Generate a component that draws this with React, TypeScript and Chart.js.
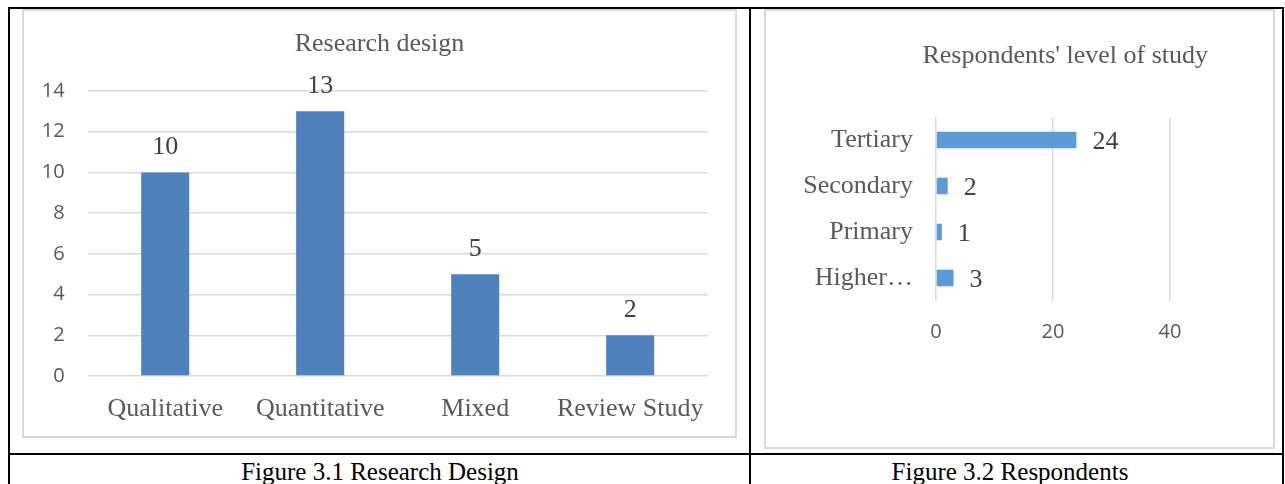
import React, { useEffect, useRef } from "react";
import { Chart, registerables } from "chart.js";

Chart.register(...registerables);

// ---- data ----
const designCategories = ["Qualitative", "Quantitative", "Mixed", "Review Study"];
const designValues = [10, 13, 5, 2];
const designTickMin = 0;
const designTickMax = 14;
const designTickStep = 2;

const levelCategories = ["Tertiary", "Secondary", "Primary", "Higher…"];
const levelValues = [24, 2, 1, 3];
const levelTickMin = 0;
const levelTickMax = 40;
const levelTickStep = 20;

const designTitle = "Research design";
const levelTitle = "Respondents' level of study";
const designCaption = "Figure 3.1 Research Design";
const levelCaption = "Figure 3.2 Respondents";

const SERIF = "'Liberation Serif', 'Times New Roman', serif";
const SANS = "'Open Sans', 'Liberation Sans', sans-serif";
const GRID = "#d9d9d9";
const TEXT = "#595959";

const valueLabels = {
  id: "valueLabels",
  afterDatasetsDraw(chart: any) {
    const ctx = chart.ctx;
    const horizontal = chart.options.indexAxis === "y";
    chart.data.datasets.forEach((ds: any, i: number) => {
      const meta = chart.getDatasetMeta(i);
      meta.data.forEach((el: any, j: number) => {
        const v = ds.data[j];
        ctx.save();
        ctx.font = `26px ${SERIF}`;
        ctx.fillStyle = "#404040";
        ctx.textBaseline = "alphabetic";
        if (horizontal) {
          ctx.textAlign = "left";
          ctx.fillText(String(v), el.x + 16, el.y + 9);
        } else {
          ctx.textAlign = "center";
          ctx.fillText(String(v), el.x, el.y - 18);
        }
        ctx.restore();
      });
    });
  },
};

function DesignChart() {
  const ref = useRef<HTMLCanvasElement>(null);
  useEffect(() => {
    const chart = new Chart(ref.current as HTMLCanvasElement, {
      type: "bar",
      data: {
        labels: designCategories,
        datasets: [
          {
            data: designValues,
            backgroundColor: "#4F81BD",
            barPercentage: 0.31,
            categoryPercentage: 1,
          },
        ],
      },
      options: {
        animation: false,
        responsive: false,
        devicePixelRatio: 1,
        layout: { padding: 0 },
        plugins: {
          legend: { display: false },
          tooltip: { enabled: false },
          title: {
            display: true,
            text: designTitle,
            color: TEXT,
            font: { family: SERIF, size: 26, weight: "normal" },
            padding: { top: 17.4, bottom: 31.4 },
          },
        },
        scales: {
          x: {
            grid: { display: false },
            border: { display: false },
            ticks: {
              color: TEXT,
              font: { family: SERIF, size: 26 },
              padding: 9.4,
              maxRotation: 0,
              minRotation: 0,
              autoSkip: false,
            },
            afterFit: (s: any) => {
              s.height = 60;
            },
          },
          y: {
            min: designTickMin,
            max: designTickMax,
            ticks: {
              stepSize: designTickStep,
              color: TEXT,
              font: { family: SANS, size: 20 },
              padding: 23,
            },
            grid: { color: GRID, lineWidth: 1.5, drawTicks: false },
            border: { display: false },
            afterFit: (s: any) => {
              s.width = 63.7;
            },
          },
          y2: {
            type: "linear",
            position: "right",
            display: true,
            grid: { display: false },
            border: { display: false },
            ticks: { display: false },
            afterFit: (s: any) => {
              s.width = 27.3;
            },
          },
        },
      } as any,
      plugins: [valueLabels],
    });
    return () => chart.destroy();
  }, []);
  return (
    <canvas
      ref={ref}
      width={711}
      height={425}
      style={{ position: "absolute", left: 24, top: 11, width: 711, height: 425 }}
    />
  );
}

function LevelChart() {
  const ref = useRef<HTMLCanvasElement>(null);
  useEffect(() => {
    const chart = new Chart(ref.current as HTMLCanvasElement, {
      type: "bar",
      data: {
        labels: levelCategories,
        datasets: [
          {
            data: levelValues,
            backgroundColor: "#5B9BD5",
            barPercentage: 0.36,
            categoryPercentage: 1,
          },
        ],
      },
      options: {
        indexAxis: "y",
        animation: false,
        responsive: false,
        devicePixelRatio: 1,
        layout: { padding: { left: 0, right: 65, top: 0, bottom: 0 } },
        plugins: {
          legend: { display: false },
          tooltip: { enabled: false },
          title: {
            display: true,
            text: levelTitle,
            align: "end",
            color: TEXT,
            font: { family: SERIF, size: 26, weight: "normal" },
            padding: { top: 29.4, bottom: 45.4 },
          },
        },
        scales: {
          x: {
            min: levelTickMin,
            max: levelTickMax,
            ticks: {
              stepSize: levelTickStep,
              color: TEXT,
              font: { family: SANS, size: 20 },
              padding: 19,
            },
            grid: { color: GRID, lineWidth: 1.5, drawTicks: false },
            border: { display: false },
            afterFit: (s: any) => {
              s.height = 146;
            },
          },
          y: {
            grid: { display: false },
            border: { display: false },
            ticks: {
              color: TEXT,
              font: { family: SERIF, size: 26 },
              padding: 15,
              autoSkip: false,
            },
            afterFit: (s: any) => {
              s.width = 170;
            },
          },
          y2: {
            type: "linear",
            position: "right",
            display: true,
            grid: { display: false },
            border: { display: false },
            ticks: { display: false },
            afterFit: (s: any) => {
              s.width = 38;
            },
          },
        },
      } as any,
      plugins: [valueLabels],
    });
    return () => chart.destroy();
  }, []);
  return (
    <canvas
      ref={ref}
      width={507}
      height={436}
      style={{ position: "absolute", left: 766, top: 11, width: 507, height: 436 }}
    />
  );
}

const line = (left: number, top: number, width: number, height: number) => (
  <div
    style={{ position: "absolute", left, top, width, height, background: "#000" }}
  />
);

export default function App() {
  return (
    <div
      style={{
        position: "absolute",
        left: 0,
        top: 0,
        width: 1285,
        height: 484,
        overflow: "hidden",
        background: "#fff",
        fontFamily: SERIF,
      }}
    >
      {/* chart frames */}
      <div
        style={{
          position: "absolute",
          left: 22,
          top: 9,
          width: 715,
          height: 429,
          border: `2px solid ${GRID}`,
          boxSizing: "border-box",
        }}
      />
      <div
        style={{
          position: "absolute",
          left: 764,
          top: 9,
          width: 511,
          height: 440,
          border: `2px solid ${GRID}`,
          boxSizing: "border-box",
        }}
      />
      <DesignChart />
      <LevelChart />
      {/* table borders */}
      {line(8, 7, 1276, 2)}
      {line(8, 7, 2, 477)}
      {line(749, 7, 2, 477)}
      {line(1282, 7, 2, 477)}
      {line(8, 453, 1276, 2)}
      {/* captions */}
      <div
        style={{
          position: "absolute",
          left: 130,
          top: 459,
          width: 500,
          textAlign: "center",
          fontSize: 25,
          lineHeight: "25px",
          color: "#000",
          whiteSpace: "nowrap",
        }}
      >
        {designCaption}
      </div>
      <div
        style={{
          position: "absolute",
          left: 760,
          top: 459,
          width: 500,
          textAlign: "center",
          fontSize: 25,
          lineHeight: "25px",
          color: "#000",
          whiteSpace: "nowrap",
        }}
      >
        {levelCaption}
      </div>
    </div>
  );
}
